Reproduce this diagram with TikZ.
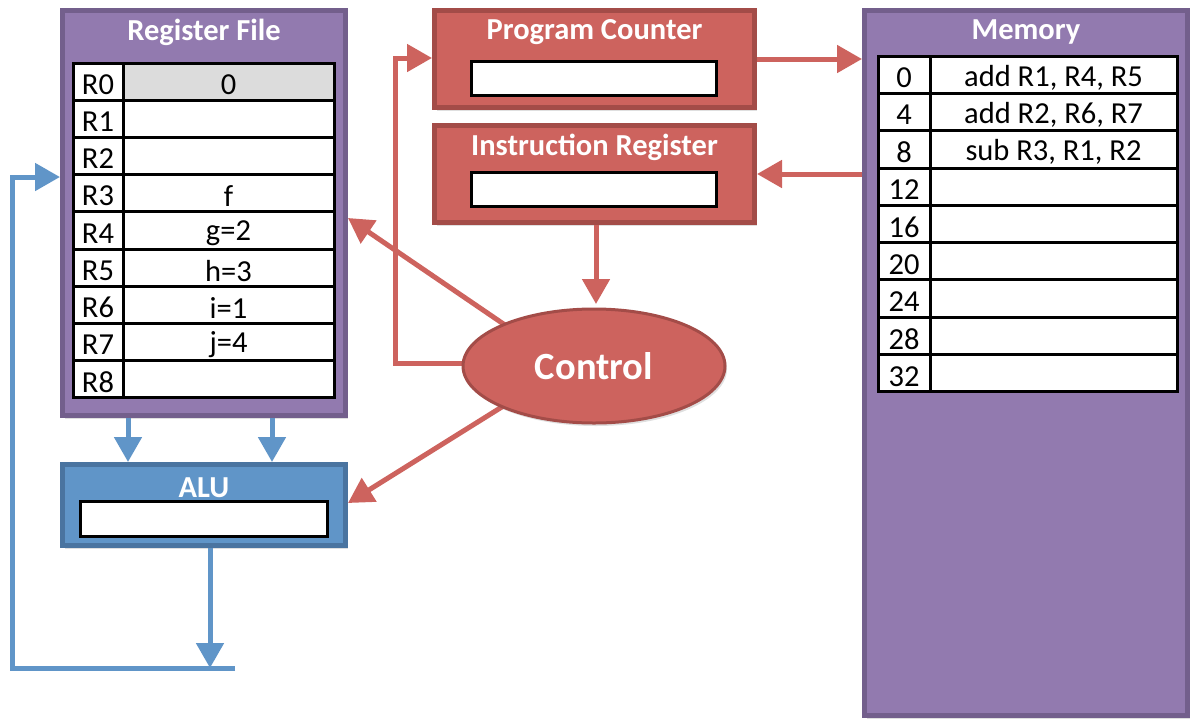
\documentclass[tikz,border=0pt]{standalone}
\usepackage{fontspec}
\setmainfont{Carlito}
\usetikzlibrary{arrows.meta,shapes.geometric,shadows,calc}

\definecolor{rfFill}{HTML}{927AAF}
\definecolor{rfEdge}{HTML}{735F8C}
\definecolor{ctlFill}{HTML}{CD635E}
\definecolor{ctlEdge}{HTML}{A34C48}
\definecolor{aluFill}{HTML}{6095C8}
\definecolor{aluEdge}{HTML}{4A74A0}
\definecolor{cellGrey}{HTML}{DCDCDC}

% cell entries sit a little below the optical centre of their row
\newcommand{\celltext}[1]{\raisebox{-3pt}[\height][\depth]{#1}}

\begin{document}
\begin{tikzpicture}[x=1pt,y=-1pt,
  boxshadow/.style={drop shadow={shadow xshift=2pt,shadow yshift=-3pt,opacity=0.25}},
  purplebox/.style={draw=rfEdge,fill=rfFill,line width=5pt,inner sep=0pt,boxshadow},
  redbox/.style={draw=ctlEdge,fill=ctlFill,line width=5pt,inner sep=0pt,boxshadow},
  bluebox/.style={draw=aluEdge,fill=aluFill,line width=5pt,inner sep=0pt,boxshadow},
  boxtitle/.style={text=white,inner sep=0pt,font=\fontsize{30.5}{33}\selectfont\bfseries},
  cell/.style={draw=black,fill=white,line width=3pt,inner sep=0pt,
    font=\fontsize{30.5}{33}\selectfont},
  slot/.style={draw=black,fill=white,line width=3pt,inner sep=0pt},
  redarrow/.style={draw=ctlFill,line width=5pt,-{Triangle[length=25pt,width=27pt]}},
  bluearrow/.style={draw=aluFill,line width=5pt,-{Triangle[length=25pt,width=27pt]}},
  blueline/.style={draw=aluFill,line width=5pt}]

\useasboundingbox (0,0) rectangle (1197,721);

% ---------- register file ----------
\node[purplebox,minimum width=283pt,minimum height=405pt] (rf) at (204,213) {};
\node[boxtitle] (rftitle) at (204,32.5) {Register File};
\foreach \lab/\val [count=\i from 0] in {R0/0,R1/,R2/,R3/f,R4/g=2,R5/h=3,R6/i=1,R7/j=4,R8/}{
  \pgfmathsetmacro{\yy}{81.6+37.2*\i}
  \node[cell,minimum width=50pt,minimum height=37.2pt] (rl\i) at (98,\yy) {\celltext{\lab}};
  \ifnum\i=0
    \node[cell,fill=cellGrey,minimum width=211pt,minimum height=37.2pt] (rv\i) at (228.5,\yy) {\celltext{\val}};
  \else
    \node[cell,minimum width=211pt,minimum height=37.2pt] (rv\i) at (228.5,\yy) {\celltext{\val}};
  \fi
}

% ---------- ALU ----------
\node[bluebox,minimum width=283pt,minimum height=81pt] (alu) at (204,505) {};
\node[boxtitle] (alutitle) at (204,488) {ALU};
\node[slot,minimum width=247pt,minimum height=35pt] (aluslot) at (204,519) {};

% ---------- program counter / instruction register ----------
\node[redbox,minimum width=320pt,minimum height=97pt] (pc) at (594.5,59) {};
\node[boxtitle] (pctitle) at (594.5,32.5) {Program Counter};
\node[slot,minimum width=245pt,minimum height=34pt] (pcslot) at (594,78.5) {};

\node[redbox,minimum width=320pt,minimum height=97pt] (ir) at (594.5,174) {};
\node[boxtitle] (irtitle) at (594.5,147.5) {Instruction Register};
\node[slot,minimum width=245pt,minimum height=34pt] (irslot) at (594,189) {};

% ---------- memory ----------
\node[purplebox,minimum width=323pt,minimum height=705pt] (mem) at (1026,363) {};
\node[boxtitle] (memtitle) at (1026,32.5) {Memory};
\foreach \adr/\ins [count=\i from 0] in {0/{add R1, R4, R5},4/{add R2, R6, R7},8/{sub R3, R1, R2},12/,16/,20/,24/,28/,32/}{
  \pgfmathsetmacro{\yy}{74.67+37.33*\i}
  \node[cell,minimum width=52pt,minimum height=37.33pt] (ma\i) at (904,\yy) {\celltext{\adr}};
  \node[cell,minimum width=247pt,minimum height=37.33pt] (mi\i) at (1053.5,\yy) {\celltext{\ins}};
}

% ---------- control connectors ----------
\draw[redarrow] (pc.east) -- (pc.east -| mem.west);
\draw[redarrow] (ir.east -| mem.west) -- (ir.east);
\coordinate (ctltop) at (596,304);
\draw[redarrow] (ir.south -| ctltop) -- (ctltop);
\coordinate (rfin) at (348,218);
\coordinate (aluin) at (348,503);
\coordinate (pcturn) at (395,58);
\coordinate (pcin) at (432,58);
\coordinate (ctlleft) at (470,363);
\coordinate (ctlup) at (505,325);
\coordinate (ctldown) at (505,405);
\draw[redarrow] (ctlup) -- (rfin);
\draw[redarrow] (ctldown) -- (aluin);
\draw[redarrow] (ctlleft) -| (pcturn) -- (pcin);

\node[ellipse,draw=ctlEdge,fill=ctlFill,line width=3pt,inner sep=0pt,
  minimum width=262pt,minimum height=114pt,boxshadow,text=white,
  font=\fontsize{38.5}{42}\selectfont\bfseries] (ctrl) at (594,366) {Control};

% ---------- datapath ----------
\draw[bluearrow] ([xshift=-76pt]rf.south) -- ([xshift=-76pt]alu.north);
\draw[bluearrow] ([xshift=68pt]rf.south) -- ([xshift=68pt]alu.north);
\coordinate (busL) at (12,668);
\coordinate (busR) at (235,668);
\draw[bluearrow] ([xshift=6pt]alu.south) -- ([xshift=6pt]alu.south |- busL);
\draw[blueline] (busR) -- (busL) -- ++(0,-2.5);
\draw[bluearrow] (busL) |- ([yshift=36pt]rf.west);
\end{tikzpicture}
\end{document}
